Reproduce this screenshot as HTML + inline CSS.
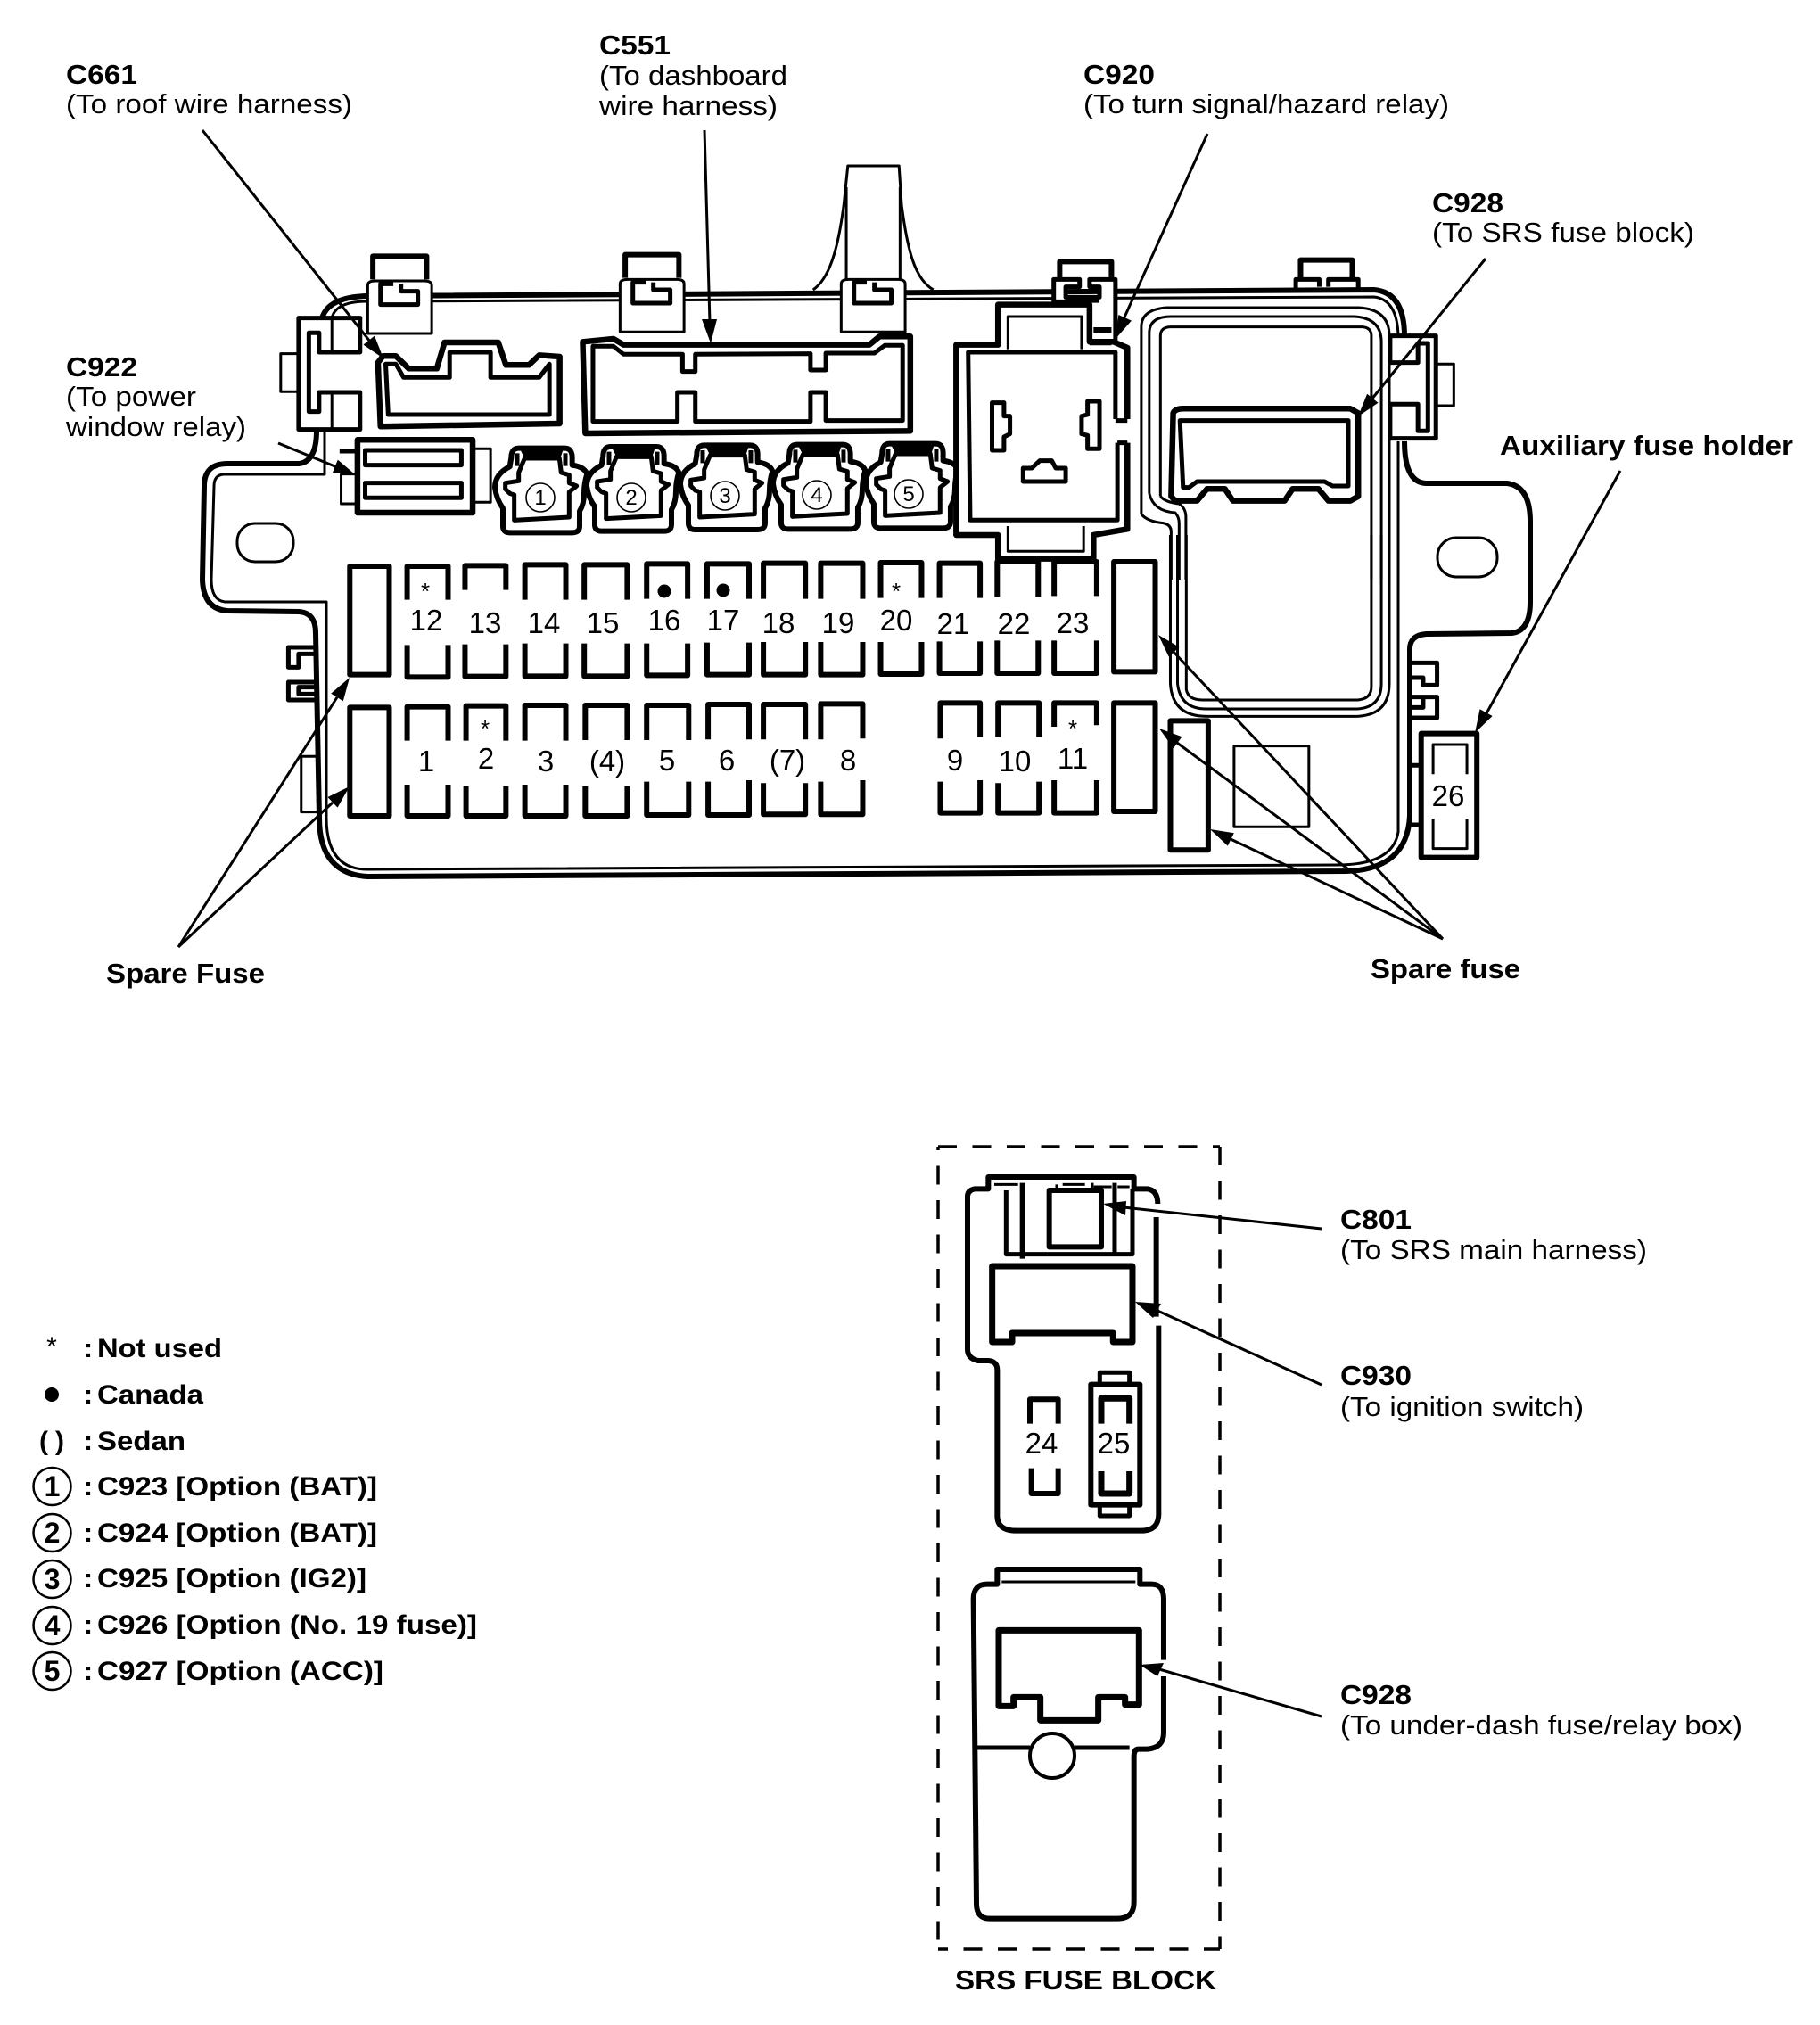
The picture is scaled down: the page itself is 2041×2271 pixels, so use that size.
<!DOCTYPE html>
<html><head><meta charset="utf-8"><title>Fuse block diagram</title>
<style>
html,body{margin:0;padding:0;background:#fff}
svg{display:block}
path,rect,circle,ellipse,line{vector-effect:non-scaling-stroke}
.k path,.k rect{fill:none;stroke:#000;stroke-linejoin:round}
.k .w{fill:#fff}
.k .f{fill:#000;stroke:none}
.s7{stroke-width:6.5}.s6{stroke-width:7}.s5{stroke-width:6}.s4{stroke-width:5}.s3{stroke-width:3}.s2{stroke-width:2.5}
.a line{stroke:#000;stroke-width:3}
.a polygon{fill:#000}
text{font-family:"Liberation Sans",sans-serif;fill:#000}
.b{font-weight:bold;font-size:31px}
.r{font-size:31px}
.n{font-size:33px;text-anchor:middle}
.c{font-size:24px;text-anchor:middle}
.st{font-size:26px;text-anchor:middle}
.l{font-weight:bold;font-size:30px}
.d{font-weight:bold;font-size:32px;text-anchor:middle}
</style></head><body>
<svg xmlns="http://www.w3.org/2000/svg" width="2041" height="2271" viewBox="0 0 2041 2271">
<rect width="2041" height="2271" fill="#fff"/>

<!-- body outline -->
<g class="k">
<path class="s5" d="M361,357 Q368,333 412,332 L1541,325 Q1575,328 1575,377 M1575,495 Q1575,542 1600,542 L1690,542 Q1716,545 1716,585 V675 Q1716,708 1695,710 L1600,711 Q1580,712 1581,730 L1581,915 Q1578,975 1510,977 L412,983 Q358,980 358,917 L354,710 Q354,687 335,686 L255,685 Q228,683 227,650 L229,545 Q229,520 255,520 H335 Q355,518 355,483"/>
<path class="s3" d="M372,357 Q376,338 412,338 L1541,333 Q1567,336 1568,377 M1568,495 V933 Q1562,970 1500,970 L412,975 Q366,975 366,917 V675 H252 Q237,673 237,650 L240,545 Q240,532 252,532 H364 V483"/>
</g>

<!-- strap -->
<g class="k" transform="translate(200,150) scale(.574,.3333)">
<path class="s3" d="M1240,525 C1270,490 1288,400 1300,240 L1308,108 H1408 L1413,240 C1425,400 1440,490 1475,525"/>
<path class="s3" d="M1305,180 V490 M1410,180 V490"/>
</g>
<rect x="266" y="587" width="63" height="43" rx="20" fill="#fff" stroke="#000" stroke-width="3"/>
<rect x="1612" y="603" width="67" height="44" rx="21" fill="#fff" stroke="#000" stroke-width="3"/>

<!-- zoom 1 group -->
<g class="k" transform="translate(200,150) scale(.574,.3333)">
<defs>
<g id="clipb">
<path class="w s3" d="M370,672 V510 Q370,495 385,495 H480 Q495,495 495,510 V672 Z"/>
<path class="s4" d="M420,505 H395 V575 H468 V530 H435 V505"/>
</g>
<path id="tab" class="s5" d="M380,490 V412 H485 V490"/>
</defs>
<use href="#tab"/><use href="#clipb"/>
<use href="#tab" transform="translate(493,-5)"/><use href="#clipb" transform="translate(493,-5)"/>
<use href="#clipb" transform="translate(925,-5)"/>

<!-- left bracket -->
<path class="w s4" d="M355,620 H235 V995 H355 V870 H275 V935 H255 V670 H275 V735 H355 Z"/>
<path class="s3" d="M300,620 V735 M300,870 V995 M235,740 H200 V868 H235"/>

<!-- C661 -->
<path class="w s7" d="M390,770 L400,748 H425 L450,790 H505 L520,702 H625 L640,778 H685 L705,745 L745,750 V975 L395,985 Z"/>
<path class="s4" d="M405,775 H425 L440,820 H530 V735 H610 V820 H705 L725,775 V945 H410 Z"/>

<!-- C551 -->
<path class="w s7" d="M790,700 L850,690 L870,710 H1350 L1370,682 H1430 V1000 L795,1008 Z"/>
<path class="s4" d="M810,715 H850 L870,742 H985 V800 H1010 V742 L1235,740 V795 H1265 V738 H1360 L1380,712 H1415 V965 H1265 V870 H1235 V968 H1010 V870 H975 V968 H810 Z"/>

<!-- C922 holder -->
<path class="s3" d="M575,1060 H610 V1240 H575 M350,1145 H318 V1245 H350"/>
<path class="s4" d="M315,1068 H350"/>
<rect class="w s7" x="350" y="1030" width="225" height="245"/>
<rect class="s4" x="365" y="1065" width="188" height="50"/>
<rect class="s4" x="365" y="1175" width="188" height="50"/>
</g>

<!-- option connectors -->
<g class="k" transform="translate(540,490) scale(.3333)">
<defs>
<g id="conn">
<path class="w s5" d="M100,70 Q100,38 125,38 H280 Q305,38 305,70 V95 Q345,100 355,125 Q345,155 345,190 Q345,225 330,250 V300 Q330,322 305,322 H95 Q72,322 72,300 V240 Q50,210 45,170 Q45,125 95,100 Z"/>
<path class="f" d="M130,42 H275 L265,72 H145 Z"/>
<path class="s4" d="M120,55 V98 M282,55 V98"/>
<path class="s4" d="M145,72 H262 L268,120 L295,128 V155 L320,165 L295,185 V270 L110,280 V195 L95,190 L80,175 V155 L125,148 V120 Z"/>
</g>
</defs>
<use href="#conn"/>
<use href="#conn" transform="translate(309,-5)"/>
<use href="#conn" transform="translate(624,-10)"/>
<use href="#conn" transform="translate(936,-12)"/>
<use href="#conn" transform="translate(1248,-15)"/>
</g>

<circle cx="606" cy="558" r="16" fill="#fff" stroke="#000" stroke-width="1.6"/>
<circle cx="708" cy="558" r="16" fill="#fff" stroke="#000" stroke-width="1.6"/>
<circle cx="813" cy="556" r="16" fill="#fff" stroke="#000" stroke-width="1.6"/>
<circle cx="916" cy="555" r="16" fill="#fff" stroke="#000" stroke-width="1.6"/>
<circle cx="1019" cy="554" r="16" fill="#fff" stroke="#000" stroke-width="1.6"/>
<text class="c" x="606" y="566">1</text>
<text class="c" x="708" y="566">2</text>
<text class="c" x="813" y="564">3</text>
<text class="c" x="916" y="563">4</text>
<text class="c" x="1019" y="562">5</text>

<!-- zoom 2 group -->
<g class="k" transform="translate(1050,150) scale(.4464,.3333)">
<!-- SRS area concentric lines -->
<path class="s3" d="M515,1280 V650 Q515,590 580,585 H1060 Q1138,590 1138,680 V1500"/>
<path class="s3" d="M535,1210 V670 Q535,615 590,615 H1050 Q1118,620 1118,700 V1500"/>
<path class="s3" d="M563,1220 V680 Q563,650 590,650 H1070 Q1093,652 1093,680 V1500"/>
<path class="s3" d="M515,1280 Q530,1305 570,1310 Q590,1315 590,1340 V1500 M535,1210 Q545,1270 600,1275 Q610,1290 610,1310 V1500 M563,1220 Q575,1240 610,1245 Q627,1260 627,1290 V1500"/>

<!-- C928 connector -->
<path class="w s7" d="M595,940 Q600,925 620,925 H1040 L1060,940 V1220 L1040,1235 H985 L960,1195 H895 L875,1235 H745 L725,1195 H680 L655,1235 H600 L590,1220 Z"/>
<path class="s4" d="M612,965 H1035 V1185 H995 L975,1170 H655 L635,1190 H620 Z"/>

<!-- right bracket -->
<path class="w s4" d="M1140,680 H1255 V1025 H1140 V910 H1210 V1000 H1235 V705 H1210 V770 H1140 Z"/>
<path class="s3" d="M1255,775 H1300 V915 H1255"/>

<!-- top clips -->
<path class="s5" d="M310,490 V430 H440 V490"/>
<path class="w s4" d="M295,565 V490 H360 V515 H325 V550 H410 V515 H385 V490 H450 V700 H385 V565 Z"/>
<path class="s5" d="M325,560 H410 M395,660 H440"/>
<path class="s5" d="M915,490 V425 H1045 V490"/>
<path class="s4" d="M903,520 V490 H962 V515 M985,515 V490 H1060 V520"/>

<!-- C920 relay -->
<path class="w s7" d="M480,960 V720 L445,700 H385 V575 H155 V710 H50 V1350 H155 V1430 H395 V1350 L480,1330 V1040"/>
<path class="s4" d="M450,960 V735 H80 L85,1300 H455 V1040 M450,965 H480 M455,1040 H480"/>
<path class="s3" d="M180,725 V615 H365 V725 M180,1320 V1405 H370 V1320"/>
<path class="s5" d="M385,703 H440"/>
<path class="s4" d="M140,905 H170 V950 L185,950 V1010 L170,1020 V1065 H140 Z"/>
<path class="s4" d="M380,900 H410 V1060 H380 V1015 L365,1010 V950 L380,945 Z"/>
<path class="s4" d="M218,1125 H240 L260,1100 H290 L300,1125 H325 V1170 H218 Z"/>
</g>

<!-- zoom 3 group: fuses -->
<g class="k" transform="translate(200,600) scale(.574,.3333)">
<rect class="s5" x="335" y="105" width="77" height="365"/>
<rect class="s5" x="335" y="580" width="77" height="365"/>
<path class="s5" d="M447,218 V105 H527 V218 M447,370 V478 H527 V370"/>
<path class="s5" d="M560,185 V103 H640 V185 M560,368 V476 H640 V368"/>
<path class="s5" d="M677,218 V100 H757 V218 M677,365 V475 H757 V365"/>
<path class="s5" d="M793,218 V100 H877 V218 M793,365 V475 H877 V365"/>
<path class="s5" d="M915,215 V97 H995 V215 M915,365 V472 H995 V365"/>
<path class="s5" d="M1033,215 V97 H1115 V215 M1033,362 V470 H1115 V362"/>
<path class="s5" d="M1143,215 V95 H1225 V215 M1143,360 V470 H1225 V360"/>
<path class="s5" d="M1255,215 V95 H1337 V215 M1255,360 V470 H1337 V360"/>
<path class="s5" d="M1372,212 V93 H1452 V212 M1372,360 V468 H1452 V360"/>

<path class="s5" d="M447,692 V578 H527 V692 M447,840 V945 H527 V840"/>
<path class="s5" d="M562,692 V575 H640 V692 M562,845 V945 H640 V845"/>
<path class="s5" d="M677,692 V573 H757 V692 M677,840 V945 H757 V840"/>
<path class="s5" d="M795,690 V573 H877 V690 M795,845 V945 H877 V845"/>
<path class="s5" d="M915,690 V573 H997 V690 M915,830 V942 H997 V830"/>
<path class="s5" d="M1035,688 V570 H1115 V688 M1035,830 V942 H1115 V825"/>
<path class="s5" d="M1143,688 V570 H1225 V688 M1143,835 V940 H1225 V835"/>
<path class="s5" d="M1255,688 V568 H1337 V685 M1255,830 V940 H1337 V825"/>

<path class="s4" d="M270,378 H215 V445 H235 V400 H270 M270,495 H215 V555 H270 M270,512 H235 V535 H270"/>
<path class="s3" d="M270,745 H240 V932 H270"/>
</g>

<!-- zoom 4 group -->
<g class="k" transform="translate(1000,600) scale(.4464,.3333)">
<path class="s3" d="M700,0 V500 Q705,610 790,610 H1170 Q1250,605 1250,500 V0"/>
<path class="s3" d="M718,0 V500 Q725,585 790,585 H1170 Q1230,580 1230,500 V0"/>
<path class="s3" d="M740,0 V520 Q745,555 780,555 H1170 Q1205,552 1205,510 V0"/>

<path class="s5" d="M120,212 V95 H222 V212 M120,358 V465 H222 V358"/>
<path class="s5" d="M265,208 V90 H368 V208 M265,355 V465 H368 V355"/>
<path class="s5" d="M408,205 V90 H515 V205 M408,355 V465 H515 V355"/>
<path class="s5" d="M122,685 V565 H222 V680 M122,830 V935 H222 V825"/>
<path class="s5" d="M267,680 V565 H370 V680 M267,835 V935 H370 V830"/>
<path class="s5" d="M408,645 V565 H515 V640 M408,825 V935 H515 V825"/>
<rect class="s5" x="558" y="90" width="104" height="370"/>
<rect class="s5" x="558" y="565" width="104" height="365"/>
<path class="w s5" d="M795,625 H700 V1060 H795 Z"/>
<rect class="s3" x="860" y="710" width="188" height="272"/>

<path class="s4" d="M1295,430 H1370 V505 H1335 V480 H1295 M1295,545 H1370 V615 H1295 M1335,545 V580 H1295"/>
<path class="s4" d="M1295,775 H1330 M1295,975 H1330"/>
<rect class="w s5" x="1330" y="668" width="140" height="417"/>
<path class="s3" d="M1360,805 V705 H1445 V805 M1360,955 V1055 H1445 V955"/>
</g>

<!-- SRS block: upper -->
<g class="k" transform="translate(1040,1270) scale(.3333,.3333)">
<path class="s5" d="M775,240 Q775,195 740,190 H695 V150 H205 V190 H160 Q135,195 135,215 V730 Q135,760 170,768 H205 Q235,770 235,800 V1290 Q235,1340 300,1340 H720 Q780,1340 778,1280 V650 M770,620 V285"/>
<path class="s3" d="M225,175 H305 M455,175 H530 M560,183 H620 M640,183 H680"/>
<path class="s4" d="M265,195 V410 H690 V190"/>
<path class="s5" d="M320,170 V425"/>
<path class="s4" d="M630,170 V405"/>
<path class="s3" d="M435,175 V195 M555,170 V195"/>
<rect class="w s5" x="410" y="195" width="175" height="190"/>
<path class="s6" d="M218,450 H690 V705 H625 V675 H285 V705 H218 Z"/>
<path class="s5" d="M345,980 V898 H440 V980"/>
<path class="s5" d="M350,1130 V1215 H440 V1130"/>
<path class="s4" d="M580,845 V808 H680 V845 M580,1255 V1290 H680 V1255"/>
<rect class="s5" x="550" y="848" width="165" height="405"/>
<path class="s6" d="M585,980 V895 H680 V980 M585,1140 V1215 H680 V1140"/>
</g>

<!-- SRS block: lower -->
<g class="k" transform="translate(1040,1730) scale(.3333,.3333)">
<path class="s5" d="M795,395 V190 Q795,140 755,140 H715 V90 H235 V140 H200 Q155,140 155,190 L165,1215 Q165,1265 210,1265 H640 Q695,1265 695,1210 V720 Q695,695 710,695 H740 Q795,690 795,640 V450"/>
<path class="s3" d="M250,132 H700"/>
<path class="s6" d="M240,295 H712 V545 H665 V520 H575 V598 H380 V520 H290 V550 H240 Z"/>
<path class="s4" d="M165,690 H345 M495,690 H680"/>
</g>
<circle cx="1180" cy="1969" r="25" fill="#fff" stroke="#000" stroke-width="4"/>

<!-- dashed border -->
<g stroke="#000" stroke-width="3.5" fill="none">
<path d="M1052,1286 H1368" stroke-dasharray="21 17.5"/>
<path d="M1052,1286 V2186" stroke-dasharray="21 17.5" stroke-dashoffset="17"/>
<path d="M1368,1286 V2186" stroke-dasharray="21 17.5" stroke-dashoffset="0"/>
<path d="M1052,2186 H1368" stroke-dasharray="21 17.5" stroke-dashoffset="10"/>
</g>

<!-- arrows -->
<g class="a">
<line x1="227" y1="146" x2="415" y2="383"/><polygon points="430,402 407.5,386.6 420,376.6"/>
<line x1="790" y1="146" x2="796" y2="362"/><polygon points="797,385 787,358 804,358"/>
<line x1="1354" y1="150" x2="1260" y2="358"/><polygon points="1251,380 1268.9,359.6 1254.3,353"/>
<line x1="1666" y1="290" x2="1538" y2="448"/><polygon points="1523,467 1545.5,451.8 1533.1,441.8"/>
<line x1="312" y1="497" x2="378" y2="524"/><polygon points="398,532 372.8,530.4 378.8,515.6"/>
<line x1="1817" y1="528" x2="1667" y2="800"/><polygon points="1654,822 1673.6,803 1659.6,795.3"/>
<line x1="200" y1="1062" x2="378" y2="782"/><polygon points="392,760 384.8,786.3 371.2,777.7"/>
<line x1="200" y1="1062" x2="373" y2="900"/><polygon points="392,882 378.5,905.6 367.5,894"/>
<line x1="1618" y1="1053" x2="1316" y2="731"/><polygon points="1299,712 1322.5,725.7 1310.7,736.5"/>
<line x1="1618" y1="1053" x2="1320" y2="833"/><polygon points="1300,817 1325.5,826.3 1315.9,839.1"/>
<line x1="1618" y1="1053" x2="1380" y2="941"/><polygon points="1357,930 1383.8,934.2 1376.8,948.6"/>
<line x1="1482" y1="1378" x2="1260" y2="1354"/><polygon points="1237,1350 1263,1347 1262,1363"/>
<line x1="1482" y1="1553" x2="1296" y2="1469"/><polygon points="1273,1460 1302,1462 1293,1478"/>
<line x1="1482" y1="1925" x2="1300" y2="1872"/><polygon points="1278,1867 1305,1865 1298,1880"/>
</g>

<!-- fuse numbers -->
<text class="n" x="478" y="707">12</text>
<text class="n" x="544" y="710">13</text>
<text class="n" x="610" y="710">14</text>
<text class="n" x="676" y="710">15</text>
<text class="n" x="745" y="707">16</text>
<text class="n" x="811" y="707">17</text>
<text class="n" x="873" y="710">18</text>
<text class="n" x="940" y="710">19</text>
<text class="n" x="1005" y="707">20</text>
<text class="n" x="1069" y="711">21</text>
<text class="n" x="1137" y="711">22</text>
<text class="n" x="1203" y="710">23</text>
<text class="n" x="478" y="865">1</text>
<text class="n" x="545" y="862">2</text>
<text class="n" x="612" y="865">3</text>
<text class="n" x="681" y="865">(4)</text>
<text class="n" x="748" y="864">5</text>
<text class="n" x="815" y="864">6</text>
<text class="n" x="883" y="864">(7)</text>
<text class="n" x="951" y="864">8</text>
<text class="n" x="1071" y="864">9</text>
<text class="n" x="1138" y="865">10</text>
<text class="n" x="1203" y="862">11</text>
<text class="n" x="1624" y="904">26</text>
<text class="n" x="1168" y="1630">24</text>
<text class="n" x="1249" y="1630">25</text>

<text class="st" x="477" y="672">*</text>
<text class="st" x="544" y="826">*</text>
<text class="st" x="1005" y="672">*</text>
<text class="st" x="1203" y="826">*</text>
<circle cx="745" cy="663" r="7.5" fill="#000"/>
<circle cx="811" cy="662" r="7.5" fill="#000"/>

<!-- labels -->
<text class="b" x="74" y="94" textLength="80" lengthAdjust="spacingAndGlyphs">C661</text>
<text class="r" x="74" y="127" textLength="321" lengthAdjust="spacingAndGlyphs">(To roof wire harness)</text>
<text class="b" x="672" y="61" textLength="80" lengthAdjust="spacingAndGlyphs">C551</text>
<text class="r" x="672" y="95" textLength="211" lengthAdjust="spacingAndGlyphs">(To dashboard</text>
<text class="r" x="672" y="129" textLength="200" lengthAdjust="spacingAndGlyphs">wire harness)</text>
<text class="b" x="1215" y="94" textLength="80" lengthAdjust="spacingAndGlyphs">C920</text>
<text class="r" x="1215" y="127" textLength="410" lengthAdjust="spacingAndGlyphs">(To turn signal/hazard relay)</text>
<text class="b" x="1606" y="238" textLength="80" lengthAdjust="spacingAndGlyphs">C928</text>
<text class="r" x="1606" y="271" textLength="294" lengthAdjust="spacingAndGlyphs">(To SRS fuse block)</text>
<text class="b" x="74" y="422" textLength="80" lengthAdjust="spacingAndGlyphs">C922</text>
<text class="r" x="74" y="455" textLength="146" lengthAdjust="spacingAndGlyphs">(To power</text>
<text class="r" x="74" y="489" textLength="202" lengthAdjust="spacingAndGlyphs">window relay)</text>
<text class="b" x="1682" y="510" textLength="329" lengthAdjust="spacingAndGlyphs">Auxiliary fuse holder</text>
<text class="b" x="119" y="1102" textLength="178" lengthAdjust="spacingAndGlyphs">Spare Fuse</text>
<text class="b" x="1537" y="1097" textLength="168" lengthAdjust="spacingAndGlyphs">Spare fuse</text>
<text class="b" x="1503" y="1378" textLength="80" lengthAdjust="spacingAndGlyphs">C801</text>
<text class="r" x="1503" y="1412" textLength="344" lengthAdjust="spacingAndGlyphs">(To SRS main harness)</text>
<text class="b" x="1503" y="1553" textLength="80" lengthAdjust="spacingAndGlyphs">C930</text>
<text class="r" x="1503" y="1588" textLength="273" lengthAdjust="spacingAndGlyphs">(To ignition switch)</text>
<text class="b" x="1503" y="1911" textLength="80" lengthAdjust="spacingAndGlyphs">C928</text>
<text class="r" x="1503" y="1945" textLength="451" lengthAdjust="spacingAndGlyphs">(To under-dash fuse/relay box)</text>
<text class="b" x="1071" y="2231" textLength="293" lengthAdjust="spacingAndGlyphs">SRS FUSE BLOCK</text>

<!-- legend -->
<text class="st" x="58" y="1520" style="font-size:30px">*</text>
<circle cx="58" cy="1564" r="8" fill="#000"/>
<text class="l" x="44" y="1626" textLength="28" lengthAdjust="spacing">( )</text>
<g fill="#fff" stroke="#000" stroke-width="2.5">
<circle cx="58.5" cy="1667" r="21"/><circle cx="58.5" cy="1719" r="21"/><circle cx="58.5" cy="1771" r="21"/><circle cx="58.5" cy="1823" r="21"/><circle cx="58.5" cy="1874" r="21"/>
</g>
<text class="d" x="58.5" y="1678">1</text>
<text class="d" x="58.5" y="1730">2</text>
<text class="d" x="58.5" y="1782">3</text>
<text class="d" x="58.5" y="1834">4</text>
<text class="d" x="58.5" y="1885">5</text>
<text class="l" x="94" y="1522">:</text><text class="l" x="109" y="1522" textLength="140" lengthAdjust="spacingAndGlyphs">Not used</text>
<text class="l" x="94" y="1574">:</text><text class="l" x="109" y="1574" textLength="119" lengthAdjust="spacingAndGlyphs">Canada</text>
<text class="l" x="94" y="1626">:</text><text class="l" x="109" y="1626" textLength="99" lengthAdjust="spacingAndGlyphs">Sedan</text>
<text class="l" x="94" y="1677">:</text><text class="l" x="109" y="1677" textLength="314" lengthAdjust="spacingAndGlyphs">C923 [Option (BAT)]</text>
<text class="l" x="94" y="1729">:</text><text class="l" x="109" y="1729" textLength="314" lengthAdjust="spacingAndGlyphs">C924 [Option (BAT)]</text>
<text class="l" x="94" y="1780">:</text><text class="l" x="109" y="1780" textLength="302" lengthAdjust="spacingAndGlyphs">C925 [Option (IG2)]</text>
<text class="l" x="94" y="1832">:</text><text class="l" x="109" y="1832" textLength="426" lengthAdjust="spacingAndGlyphs">C926 [Option (No. 19 fuse)]</text>
<text class="l" x="94" y="1884">:</text><text class="l" x="109" y="1884" textLength="321" lengthAdjust="spacingAndGlyphs">C927 [Option (ACC)]</text>
</svg>
</body></html>
